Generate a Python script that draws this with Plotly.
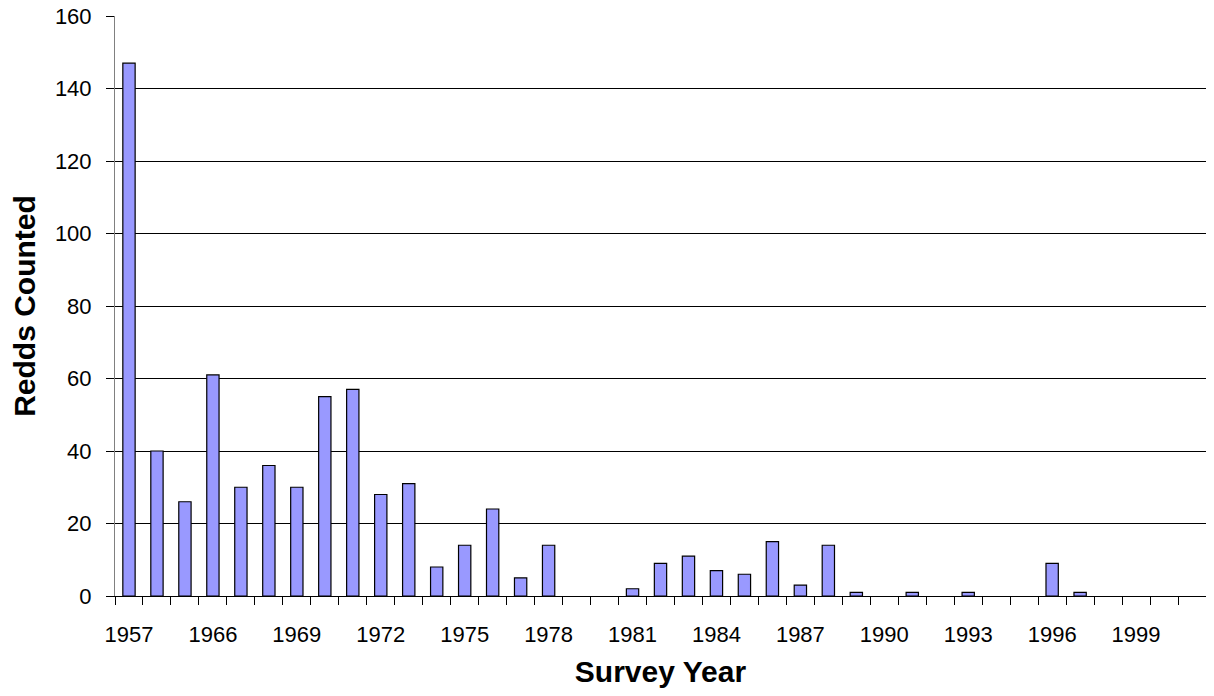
import plotly.graph_objects as go

years = ["1957", "1964", "1965"] + [str(y) for y in range(1966, 2002)]
redds = [147, 40, 26, 61, 30, 36, 30, 55, 57, 28, 31, 8, 14, 24, 5, 14, 0, 0, 2, 9,
         11, 7, 6, 15, 3, 14, 1, 0, 1, 0, 1, 0, 0, 9, 1, 0, 0, 0, 0]
labeled_years = ["1957", "1966", "1969", "1972", "1975", "1978", "1981", "1984",
                 "1987", "1990", "1993", "1996", "1999"]
y_ticks = [0, 20, 40, 60, 80, 100, 120, 140, 160]

ticktext = [y if y in labeled_years else "" for y in years]
outline = [1.2 if v > 0 else 0 for v in redds]

fig = go.Figure()
fig.add_trace(go.Bar(
    x=years, y=redds,
    marker=dict(color="#9999FF", line=dict(color="black", width=outline)),
))

font = "Liberation Sans, Arial, sans-serif"
# the page body adds an 8px margin around the figure; size the figure to fit
fig.update_layout(
    width=1198, height=680,
    margin=dict(l=107, r=0, t=8, b=92),
    plot_bgcolor="white", paper_bgcolor="white",
    bargap=0.56,
    showlegend=False,
    font=dict(family=font, color="black", size=22),
)
fig.update_xaxes(
    type="category",
    tickmode="array", tickvals=years, ticktext=ticktext,
    tickson="boundaries", ticks="outside", ticklen=8, tickcolor="black",
    tickangle=0, ticklabelstandoff=19, ticklabeloverflow="allow",
    showline=True, linecolor="black", linewidth=1,
    showgrid=False,
    tickfont=dict(size=22, family=font),
    title=dict(text="<b>Survey Year</b>", font=dict(size=30, family=font), standoff=14),
    automargin=False,
)
fig.update_yaxes(
    range=[0, 160],
    tickmode="array", tickvals=y_ticks,
    ticks="outside", ticklen=8, tickcolor="black", ticklabelstandoff=10,
    ticklabeloverflow="allow",
    showline=True, linecolor="#808080", linewidth=1,
    showgrid=True, gridcolor="black", gridwidth=1,
    zeroline=False,
    tickfont=dict(size=22, family=font),
    title=dict(text="<b>Redds Counted</b>", font=dict(size=30, family=font), standoff=12),
    automargin=False,
)
fig.write_html("out.html")
